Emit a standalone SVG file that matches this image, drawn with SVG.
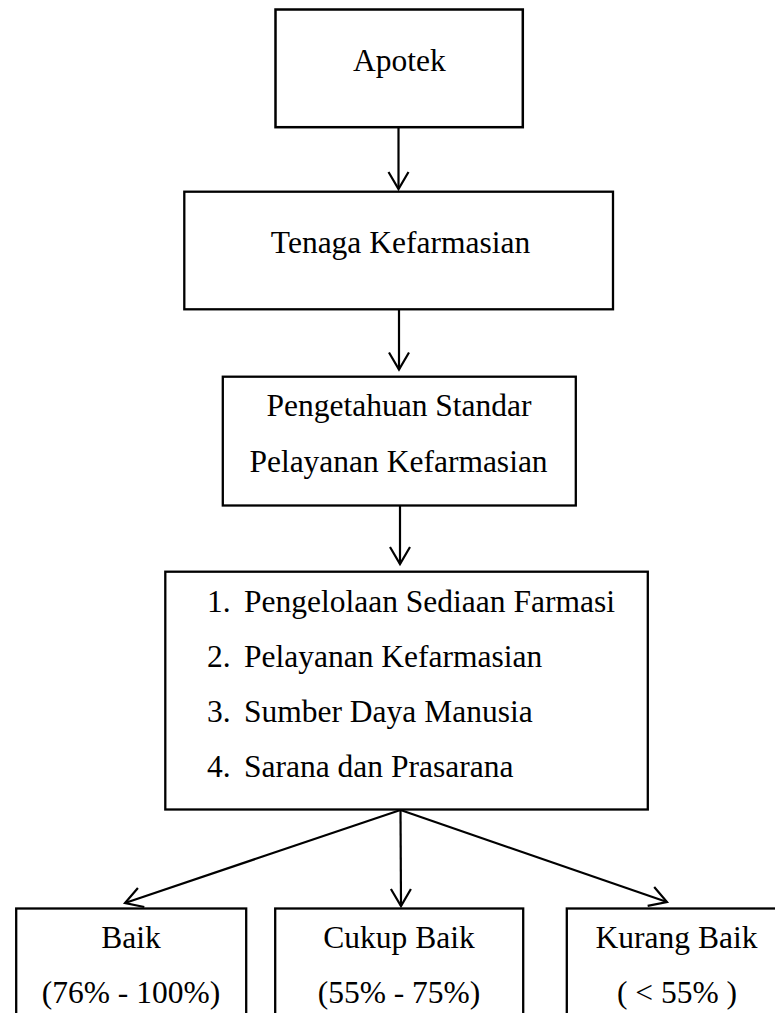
<svg xmlns="http://www.w3.org/2000/svg" width="775" height="1013" viewBox="0 0 775 1013">
<style>
.box{fill:#fff;stroke:#000;stroke-width:2.3}
.thick{stroke-width:2.5}
.t{font-family:"Liberation Serif","Times New Roman",serif;font-size:31.5px;fill:#000}
.c{text-anchor:middle}
.ln{stroke:#000;stroke-width:2.2;fill:none;marker-end:url(#arr)}
</style>
<defs>
<marker id="arr" markerUnits="userSpaceOnUse" markerWidth="40" markerHeight="40" refX="0" refY="0" orient="auto" overflow="visible">
<path d="M-17,-10 L0,0 L-17,10" fill="none" stroke="#000" stroke-width="2.2" stroke-linejoin="miter"/>
</marker>
</defs>
<rect width="775" height="1013" fill="#fff"/>
<g id="connectors">
<line class="ln" x1="398.5" y1="127" x2="398.5" y2="189"/>
<line class="ln" x1="399" y1="310" x2="399" y2="369.5"/>
<line class="ln" x1="400" y1="506" x2="400" y2="564"/>
<line class="ln" x1="400.5" y1="810" x2="125" y2="903"/>
<line class="ln" x1="400.5" y1="810" x2="401" y2="906"/>
<line class="ln" x1="400.5" y1="810" x2="667" y2="902"/>
</g>
<g id="apotek">
<rect class="box thick" x="275.5" y="9.5" width="247.3" height="117.7"/>
<text class="t c" x="399.3" y="71">Apotek</text>
</g>
<g id="tenaga">
<rect class="box" x="184.3" y="191.7" width="428.7" height="117.6"/>
<text class="t c" x="400.5" y="253">Tenaga Kefarmasian</text>
</g>
<g id="pengetahuan">
<rect class="box" x="222.8" y="376.7" width="353" height="128.8"/>
<text class="t c" x="399" y="416">Pengetahuan Standar</text>
<text class="t c" x="398.5" y="471.7">Pelayanan Kefarmasian</text>
</g>
<g id="komponen">
<rect class="box" x="165.3" y="571.7" width="482.5" height="237.8"/>
<text class="t" y="611.7"><tspan x="207">1.</tspan><tspan x="244">Pengelolaan Sediaan Farmasi</tspan></text>
<text class="t" y="666.7"><tspan x="207">2.</tspan><tspan x="244">Pelayanan Kefarmasian</tspan></text>
<text class="t" y="721.7"><tspan x="207">3.</tspan><tspan x="244">Sumber Daya Manusia</tspan></text>
<text class="t" y="776.7"><tspan x="207">4.</tspan><tspan x="244">Sarana dan Prasarana</tspan></text>
</g>
<g id="baik">
<rect class="box" x="16.2" y="908.5" width="230" height="120"/>
<text class="t c" x="131" y="948">Baik</text>
<text class="t c" x="131" y="1003">(76% - 100%)</text>
</g>
<g id="cukup">
<rect class="box" x="275.2" y="908.5" width="248" height="120"/>
<text class="t c" x="399" y="948">Cukup Baik</text>
<text class="t c" x="399" y="1003">(55% - 75%)</text>
</g>
<g id="kurang">
<rect class="box" x="566.8" y="908.5" width="230" height="120"/>
<text class="t c" x="676.5" y="948">Kurang Baik</text>
<text class="t c" x="677" y="1003">( &lt; 55% )</text>
</g>
</svg>
